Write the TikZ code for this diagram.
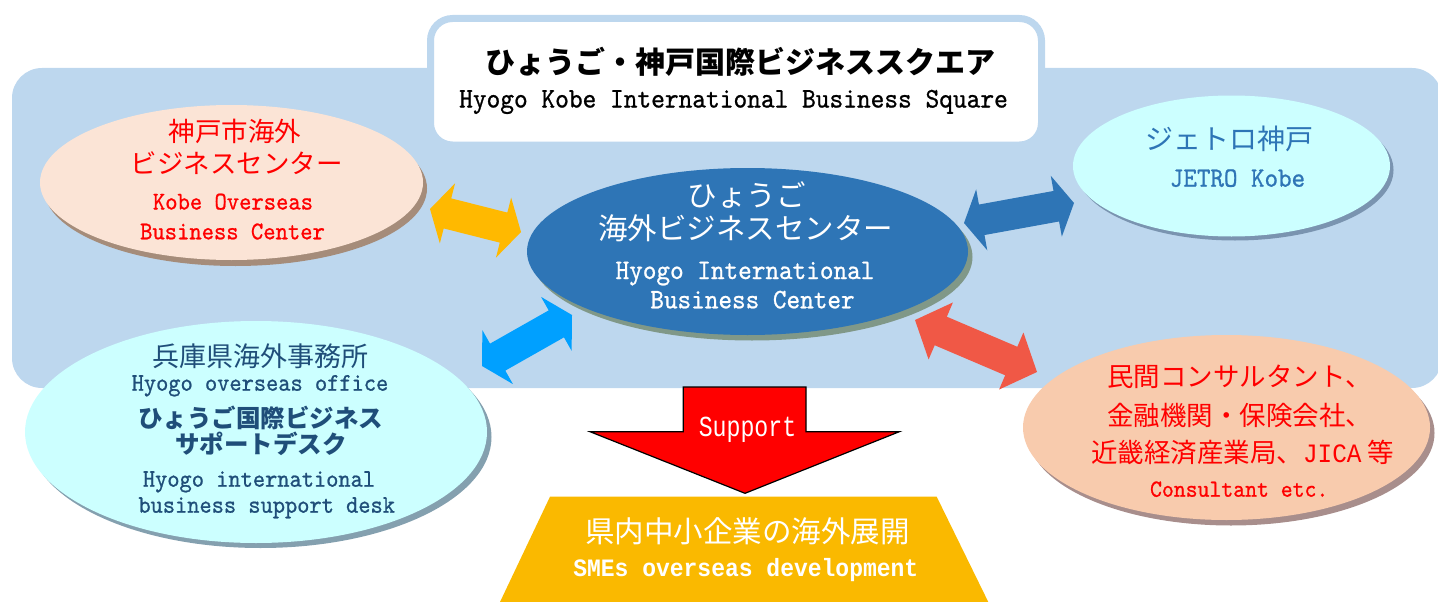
\documentclass[tikz,border=0pt]{standalone}
\usepackage{fontspec}
\usetikzlibrary{calc,shapes.geometric}
\newfontfamily\jpfont{Noto Sans CJK JP}
\newfontfamily\mymono{lmmono10-regular.otf}[FakeStretch=0.92,FakeBold=0.8]
\newfontfamily\gmono{Liberation Mono}[FakeStretch=0.92]
\newfontfamily\gsup{Liberation Mono}[FakeStretch=0.8]
\newcommand\fs[1]{\fontsize{#1}{#1}\selectfont}
\definecolor{band}{RGB}{189,215,238}
\definecolor{peach}{RGB}{251,228,214}
\definecolor{peachsh}{RGB}{165,140,122}
\definecolor{cblue}{RGB}{46,117,182}
\definecolor{cbluesh}{RGB}{128,152,136}
\definecolor{cyanl}{RGB}{204,255,255}
\definecolor{cyansh}{RGB}{122,148,176}
\definecolor{cyansh2}{RGB}{132,160,175}
\definecolor{apricot}{RGB}{248,203,173}
\definecolor{apricotsh}{RGB}{168,142,140}
\definecolor{gold}{RGB}{250,185,0}
\definecolor{orangearr}{RGB}{255,185,0}
\definecolor{skyarr}{RGB}{0,160,255}
\definecolor{redarr}{RGB}{240,88,70}
\definecolor{navy}{RGB}{31,78,121}
\definecolor{pred}{RGB}{255,0,0}
% double block arrow between two named tips: colour, A, B, head length
\newcommand\dblarr[4]{%
\fill[#1] let \p1=($(#3)-(#2)$), \n1={atan2(\y1,\x1)} in
 (#2) -- ($(#2)+(\n1:#4pt)+(\n1+90:31pt)$) -- ($(#2)+(\n1:#4pt)+(\n1+90:15.5pt)$)
 -- ($(#3)+(\n1:-#4pt)+(\n1+90:15.5pt)$) -- ($(#3)+(\n1:-#4pt)+(\n1+90:31pt)$)
 -- (#3) -- ($(#3)+(\n1:-#4pt)+(\n1-90:31pt)$) -- ($(#3)+(\n1:-#4pt)+(\n1-90:15.5pt)$)
 -- ($(#2)+(\n1:#4pt)+(\n1-90:15.5pt)$) -- ($(#2)+(\n1:#4pt)+(\n1-90:31pt)$) -- cycle;}
\begin{document}
\begin{tikzpicture}[x=1pt,y=-1pt,
  ell/.style={ellipse, inner sep=0pt, outer sep=0pt, draw=none},
  txt/.style={inner sep=0pt, anchor=base},
  jp/.style={txt, font=\jpfont\fs{#1}},
  jpb/.style={txt, font=\jpfont\bfseries\fs{#1}},
  lm/.style={txt, font=\mymono\fs{#1}}]
\useasboundingbox (0,0) rectangle (1438,602);
% background band
\fill[band, rounded corners=30pt] (12,68) rectangle (1442,388);
% title box
\draw[band, line width=7pt, fill=white, rounded corners=22pt] (430.5,18.5) rectangle (1041.5,145);
\node[jpb=30] (t1) at (740,73.4) {ひょうご・神戸国際ビジネススクエア};
\node[lm=28.4] (t2) at (733.5,107.5) {Hyogo Kobe International Business Square};
% double arrows
\coordinate (oA) at (430,209); \coordinate (oB) at (521,232);
\coordinate (bA) at (482,366); \coordinate (bB) at (572,315);
\coordinate (dA) at (964,223); \coordinate (dB) at (1074,203);
\coordinate (rA) at (915,320); \coordinate (rB) at (1037,372);
\dblarr{orangearr}{oA}{oB}{18}
\dblarr{skyarr}{bA}{bB}{18}
\dblarr{cblue}{dA}{dB}{18}
\dblarr{redarr}{rA}{rB}{28}
% Kobe overseas business center
\node[ell, fill=peachsh, minimum width=383pt, minimum height=155pt] (kobeS) at (235.5,188.5) {};
\node[ell, fill=peach, minimum width=383pt, minimum height=155pt] (kobe) at (231.5,182.5) {};
\node[jp=26.5, text=pred] (k1) at (235,141.5) {神戸市海外};
\node[jp=26.5, text=pred] (k2) at (236.5,173) {ビジネスセンター};
\node[lm=25.5, text=pred] (k3) at (233,209.5) {Kobe Overseas};
\node[lm=25.5, text=pred] (k4) at (232.5,239.3) {Business Center};
% center
\node[ell, fill=cbluesh, minimum width=441pt, minimum height=167pt] (cenS) at (752,257) {};
\node[ell, fill=cblue, minimum width=441pt, minimum height=167pt] (cen) at (747.5,251.5) {};
\node[jp=29.5, text=white] (c1) at (746.7,206) {ひょうご};
\node[jp=29.5, text=white] (c2) at (745.8,239) {海外ビジネスセンター};
\node[lm=28.2, text=white] (c3) at (745,279) {Hyogo International};
\node[lm=28.2, text=white] (c4) at (752.5,308.3) {Business Center};
% JETRO
\node[ell, fill=cyansh, minimum width=317pt, minimum height=141pt] (jetS) at (1235,170) {};
\node[ell, fill=cyanl, minimum width=317pt, minimum height=141pt] (jet) at (1231.5,166) {};
\node[jp=28, text=cblue] (j1) at (1229,149.7) {ジェトロ神戸};
\node[lm=28, text=cblue] (j2) at (1237.5,186.7) {JETRO Kobe};
% Hyogo overseas office
\node[ell, fill=cyansh2, minimum width=462pt, minimum height=222pt] (hyoS) at (260.5,437) {};
\node[ell, fill=cyanl, minimum width=462pt, minimum height=222pt] (hyo) at (256,432) {};
\node[jp=27, text=navy] (h1) at (260.8,366) {兵庫県海外事務所};
\node[lm=25.3, text=navy] (h2) at (260,390.7) {Hyogo overseas office};
\node[jpb=24.5, text=navy] (h3) at (260.8,427.3) {ひょうご国際ビジネス};
\node[jpb=24.5, text=navy] (h4) at (260.8,453.3) {サポートデスク};
\node[lm=25.3, text=navy] (h5) at (259,486.7) {Hyogo international};
\node[lm=25.3, text=navy] (h6) at (266.7,512.7) {business support desk};
% consultants
\node[ell, fill=apricotsh, minimum width=407pt, minimum height=185pt] (conS) at (1231,433) {};
\node[ell, fill=apricot, minimum width=407pt, minimum height=185pt] (con) at (1226.5,427.5) {};
\node[jp=26.5, text=pred] (r1) at (1239.5,386.8) {民間コンサルタント、};
\node[jp=26.5, text=pred] (r2) at (1239.5,425) {金融機関・保険会社、};
\node[jp=26.5, text=pred] (r3) at (1242.5,462.6) {近畿経済産業局、{\gmono\fs{26.5}JICA} 等};
\node[lm=24.6, text=pred] (r4) at (1239.2,496.7) {Consultant etc.};
% support arrow
\coordinate (sA) at (683.3,387); \coordinate (sB) at (806,387);
\coordinate (sC) at (806,431.7); \coordinate (sD) at (899.3,431.7);
\coordinate (sT) at (745,493.3); \coordinate (sE) at (590,431.7);
\coordinate (sF) at (683.3,431.7);
\draw[fill=pred, draw=black, line width=1.2pt, line join=miter] (sA) -- (sB) -- (sC) -- (sD) -- (sT) -- (sE) -- (sF) -- cycle;
\node[txt, font=\gsup\fs{29}, text=white] (sup) at (747.5,436.7) {Support};
% SMEs trapezoid
\coordinate (zA) at (550,496.7); \coordinate (zB) at (936.7,496.7);
\coordinate (zC) at (988.3,602); \coordinate (zD) at (500,602);
\fill[gold] (zA) -- (zB) -- (zC) -- (zD) -- cycle;
\node[jp=29.5, text=white] (z1) at (747.5,542) {県内中小企業の海外展開};
\node[txt, font=\gmono\bfseries\fs{25}, text=white] (z2) at (745.8,576.7) {SMEs overseas development};
\end{tikzpicture}
\end{document}
